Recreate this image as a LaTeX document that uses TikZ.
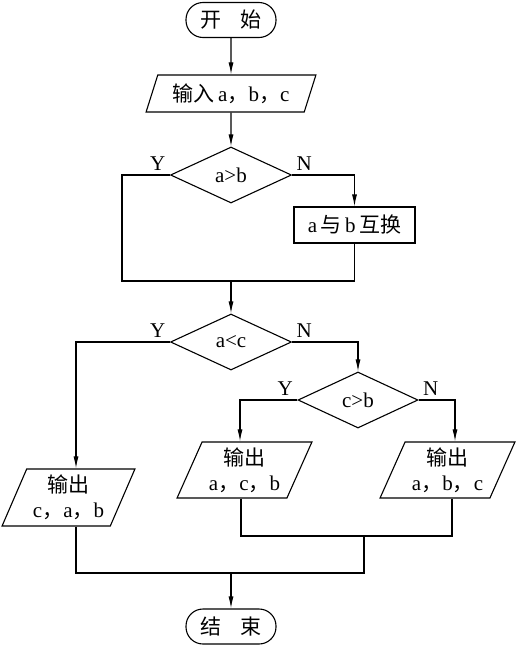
\documentclass[tikz,border=0pt]{standalone}
\usepackage{fontspec}
\setmainfont{Liberation Serif}
\newfontfamily\cjk{Noto Sans CJK SC}
\usetikzlibrary{shapes.geometric,arrows.meta}

\begin{document}
\begin{tikzpicture}[x=1pt,y=-1pt,line width=1.1pt,
        font=\fontsize{21}{25}\selectfont,
        term/.style={draw,rectangle,rounded corners=17pt,minimum width=90pt,minimum height=35pt,inner sep=0pt},
        io/.style={draw,trapezium,trapezium left angle=65,trapezium right angle=115,trapezium stretches=true,inner sep=0pt,align=center},
        proc/.style={draw,rectangle,minimum width=121pt,minimum height=36pt,inner sep=0pt},
        test/.style={draw,diamond,minimum width=121pt,minimum height=56pt,inner sep=0pt},
        arr/.style={-{Latex[length=12pt,width=5pt]}},
        lab/.style={inner sep=4pt}]
                \useasboundingbox (0,0) rectangle (517,648);
                \node[term] (start) at (231,20) {{\cjk 开\hspace{0.9em}始}};
                \node[io,minimum width=170pt,minimum height=37pt] (input) at (231,93.5) {{\cjk 输入}\,a{\cjk ，}b{\cjk ，}c};
                \node[test] (cmp1) at (231,175) {a>b};
                \node[proc] (swap) at (354.5,225) {a\,{\cjk 与}\,b\,{\cjk 互换}};
                \node[test] (cmp2) at (231,342) {a<c};
                \node[test,minimum width=120pt] (cmp3) at (358,400) {c>b};
                \node[io,minimum width=133pt,minimum height=57pt] (outcab) at (68.5,497.5) {{\cjk 输出}\\c{\cjk ，}a{\cjk ，}b};
                \node[io,minimum width=135pt,minimum height=56pt] (outacb) at (244.5,470) {{\cjk 输出}\\a{\cjk ，}c{\cjk ，}b};
                \node[io,minimum width=135pt,minimum height=56pt] (outabc) at (447.5,470) {{\cjk 输出}\\a{\cjk ，}b{\cjk ，}c};
                \node[term] (stop) at (231,626.5) {{\cjk 结\hspace{0.9em}束}};
                \coordinate (m1) at (122,281);
                \coordinate (m2) at (364,536);
                \coordinate (m3) at (231,573);
                \draw[arr] (start) -- (input);
                \draw[arr] (input) -- (cmp1);
                \draw (cmp1.west) node[lab,above left] {Y} -| (m1) -- (swap.south |- m1) -- (swap.south);
                \draw[arr] (cmp1.east) node[lab,above right] {N} -| (swap.north);
                \draw[arr] (cmp1.south |- m1) -- (cmp2);
                \draw[arr] (cmp2.west) node[lab,above left] {Y} -| ([xshift=7.5pt]outcab.north);
                \draw[arr] (cmp2.east) node[lab,above right] {N} -| (cmp3.north);
                \draw[arr] (cmp3.west) node[lab,above left] {Y} -| ([xshift=-4.5pt]outacb.north);
                \draw[arr] (cmp3.east) node[lab,above right] {N} -| ([xshift=7.5pt]outabc.north);
                \draw ([xshift=-3.5pt]outacb.south) |- (m2) -| ([xshift=4.5pt]outabc.south);
                \draw ([xshift=7.5pt]outcab.south) |- (m3) -- (m3 -| m2) -- (m2);
                \draw[arr] (m3) -- (stop);
            \end{tikzpicture}
\end{document}
